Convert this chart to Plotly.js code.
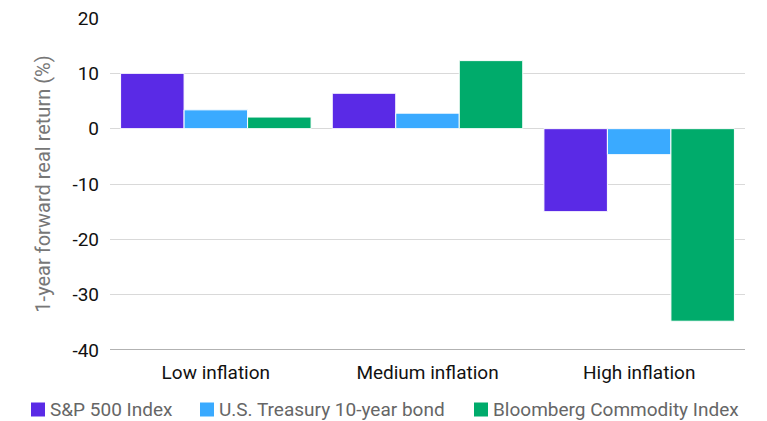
<!DOCTYPE html>
<html>
<head>
<meta charset="utf-8">
<script src="https://cdn.plot.ly/plotly-3.0.1.min.js"></script>
<style>html,body{margin:0;padding:0;background:#fff;}#chart{width:767px;height:421px;}</style>
</head>
<body>
<div id="chart"></div>
<script>
const categories = ["Low inflation", "Medium inflation", "High inflation"];
const seriesNames = ["S&P 500 Index", "U.S. Treasury 10-year bond", "Bloomberg Commodity Index"];
const sp500 = [10.0, 6.4, -15.0];
const treasury = [3.4, 2.8, -4.7];
const commodity = [2.1, 12.3, -34.8];
const yTicks = [20, 10, 0, -10, -20, -30, -40];
const colors = ["#5A2AE6", "#3AAAFF", "#00AB6B"];

const values = [sp500, treasury, commodity];
const traces = values.map((v, i) => ({
  type: "bar",
  name: seriesNames[i],
  x: categories,
  y: v,
  marker: {color: colors[i], line: {color: "#ffffff", width: 1}},
  hoverinfo: "skip",
  showlegend: false
}));

// Custom legend layout (pixel positions of legend items)
const W = 767, H = 421;
const M = {l: 110, r: 22, t: 18, b: 71};
const plotW = W - M.l - M.r, plotH = H - M.t - M.b;
const px2x = p => (p - M.l) / plotW;
const py2y = p => (H - M.b - p) / plotH;
const legendSquareX = [31, 200, 474];
const legendTop = 402.5, legendSize = 14;

const shapes = [{type: "line", xref: "paper", yref: "y", x0: 0, x1: 1, y0: -40, y1: -40, line: {color: "#999", width: 1.5}}];
const annotations = [];
seriesNames.forEach((name, i) => {
  const x0 = legendSquareX[i];
  shapes.push({type: "rect", xref: "paper", yref: "paper",
    x0: px2x(x0), x1: px2x(x0 + legendSize),
    y0: py2y(legendTop + legendSize), y1: py2y(legendTop),
    fillcolor: colors[i], line: {width: 0}});
  annotations.push({xref: "paper", yref: "paper", x: px2x(x0 + legendSize + 3), y: py2y(legendTop + legendSize / 2),
    xanchor: "left", yanchor: "middle", showarrow: false, text: name,
    font: {size: 19, color: "#666"}});
});

const layout = {
  width: W, height: H,
  margin: M,
  paper_bgcolor: "#fff", plot_bgcolor: "#fff",
  barmode: "group", bargap: 0.1, bargroupgap: 0,
  font: {family: "Roboto, sans-serif", color: "#111"},
  xaxis: {
    type: "category",
    tickfont: {size: 19, color: "#111"},
    showgrid: false, zeroline: false, showline: false,
    ticks: "", ticklen: 0, ticklabelstandoff: 9
  },
  yaxis: {
    range: [-40, 20],
    tickvals: yTicks,
    ticktext: yTicks.map(String),
    tickfont: {size: 19, color: "#111"},
    showgrid: true, gridcolor: "#d9d9d9", gridwidth: 1,
    zeroline: true, zerolinecolor: "#d9d9d9", zerolinewidth: 1,
    ticks: "", ticklabelstandoff: 10,
    title: {text: "1-year forward real return (%)", font: {size: 20, color: "#777"}, standoff: 16}
  },
  shapes: shapes,
  annotations: annotations,
  showlegend: false
};

Plotly.newPlot("chart", traces, layout, {displayModeBar: false, staticPlot: true});
</script>
</body>
</html>
